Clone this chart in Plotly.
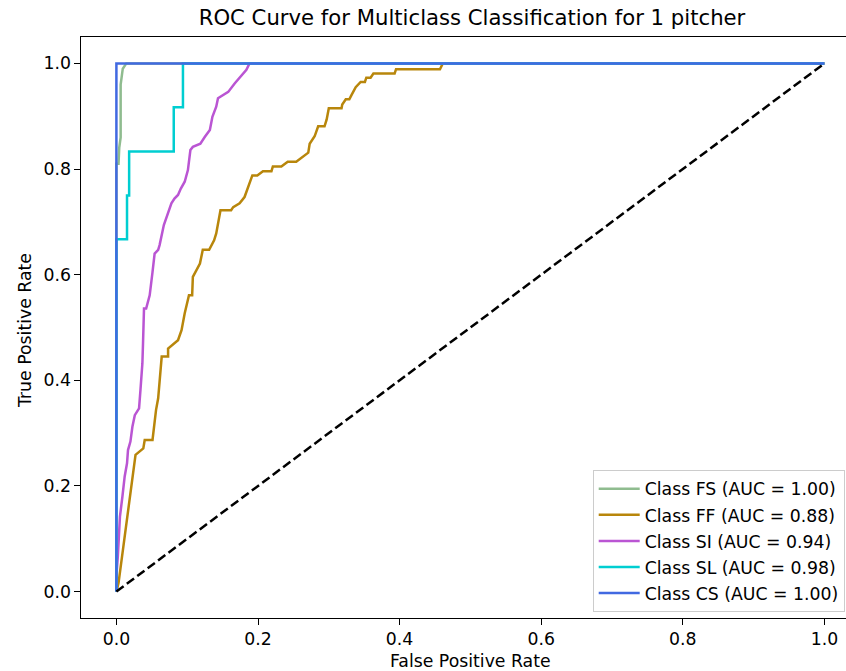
import plotly.graph_objects as go

# ROC curves per pitch class (false positive rate, true positive rate)
classes = ["FS", "FF", "SI", "SL", "CS"]
auc_values = [1.00, 0.88, 0.94, 0.98, 1.00]
line_colors = ["#8fbc8f", "#b8860b", "#ba55d3", "#00ced1", "#4169e1"]

fpr_fs = [0.0, 0.0, 0.003, 0.004, 0.006, 0.006, 0.009, 0.014, 1.0]
tpr_fs = [0.0, 0.81, 0.81, 0.84, 0.86, 0.96, 0.99, 1.0, 1.0]

fpr_ff = [0.0, 0.003, 0.027, 0.038, 0.040, 0.051, 0.056, 0.059, 0.064, 0.073,
          0.073, 0.087, 0.092, 0.0965, 0.1025, 0.107, 0.108, 0.113, 0.118, 0.122,
          0.131, 0.138, 0.141, 0.147, 0.162, 0.165, 0.174, 0.181, 0.188, 0.192,
          0.199, 0.207, 0.219, 0.221, 0.233, 0.242, 0.254, 0.264, 0.271, 0.273,
          0.280, 0.285, 0.294, 0.297, 0.300, 0.318, 0.319, 0.324, 0.329, 0.332,
          0.338, 0.345, 0.351, 0.353, 0.359, 0.363, 0.393, 0.395, 0.457, 0.461, 1.0]
tpr_ff = [0.0, 0.016, 0.259, 0.271, 0.287, 0.287, 0.344, 0.366, 0.445, 0.445,
          0.46, 0.476, 0.495, 0.527, 0.561, 0.561, 0.596, 0.609, 0.621, 0.647,
          0.647, 0.665, 0.678, 0.722, 0.722, 0.728, 0.735, 0.747, 0.773, 0.788,
          0.788, 0.796, 0.796, 0.805, 0.805, 0.814, 0.814, 0.823, 0.831, 0.848,
          0.862, 0.881, 0.881, 0.894, 0.915, 0.915, 0.922, 0.932, 0.932, 0.940,
          0.955, 0.965, 0.965, 0.973, 0.973, 0.981, 0.981, 0.989, 0.989, 1.0, 1.0]

fpr_si = [0.0, 0.0, 0.002, 0.005, 0.0085, 0.0117, 0.015, 0.0164, 0.0198, 0.0226,
          0.026, 0.032, 0.034, 0.0367, 0.0376, 0.039, 0.042, 0.047, 0.051, 0.054,
          0.059, 0.061, 0.067, 0.0715, 0.0777, 0.082, 0.087, 0.091, 0.0965, 0.101,
          0.1045, 0.108, 0.1186, 0.125, 0.132, 0.1356, 0.141, 0.1435, 0.158, 0.167,
          0.1765, 0.1836, 0.188, 1.0]
tpr_si = [0.0, 0.03, 0.066, 0.142, 0.18, 0.218, 0.243, 0.268, 0.284, 0.312,
          0.334, 0.347, 0.382, 0.432, 0.47, 0.536, 0.536, 0.561, 0.605, 0.640,
          0.647, 0.656, 0.694, 0.713, 0.735, 0.744, 0.751, 0.763, 0.776, 0.798,
          0.836, 0.842, 0.848, 0.861, 0.874, 0.899, 0.918, 0.934, 0.946, 0.962,
          0.978, 0.988, 1.0, 1.0]

fpr_sl = [0.0, 0.0, 0.015, 0.015, 0.018, 0.018, 0.081, 0.081, 0.094, 0.094, 1.0]
tpr_sl = [0.0, 0.667, 0.667, 0.75, 0.75, 0.833, 0.833, 0.917, 0.917, 1.0, 1.0]

fpr_cs = [0.0, 0.0, 1.0]
tpr_cs = [0.0, 1.0, 1.0]

chance_x = [0.0, 1.0]
chance_y = [0.0, 1.0]

tick_vals = [0.0, 0.2, 0.4, 0.6, 0.8, 1.0]

curves = [(fpr_fs, tpr_fs), (fpr_ff, tpr_ff), (fpr_si, tpr_si),
          (fpr_sl, tpr_sl), (fpr_cs, tpr_cs)]

FONT = "DejaVu Sans"
BASE = 17.3     # tick labels, axis labels, legend
TITLE = 21.2
W, H = 846, 671
ML, MR, MT, MB = 81, 0, 37, 53
PX_PER_UNIT_X = 708.0

fig = go.Figure()
for name, auc, color, (fx, ty) in zip(classes, auc_values, line_colors, curves):
    fig.add_trace(go.Scatter(
        x=fx, y=ty, mode="lines",
        name=f"Class {name} (AUC = {auc:.2f})",
        legendgroup=name,
        line=dict(color=color, width=2.5),
        hoverinfo="skip",
    ))

# chance diagonal
fig.add_trace(go.Scatter(
    x=chance_x, y=chance_y, mode="lines", showlegend=False,
    line=dict(color="black", width=2.5, dash="9px,4px"),
    hoverinfo="skip",
))

plot_w = W - ML - MR
plot_h = H - MT - MB
x_lo = -0.05
x_hi = x_lo + plot_w / PX_PER_UNIT_X

axis_common = dict(
    showgrid=False, zeroline=False, showline=True, linecolor="black",
    linewidth=1.3, ticks="outside", ticklen=5.5, tickwidth=1.3,
    tickcolor="black", tickvals=tick_vals, tickformat=".1f",
    tickfont=dict(family=FONT, size=BASE, color="black"),
)

fig.update_layout(
    width=W, height=H,
    margin=dict(l=ML, r=MR, t=MT, b=MB, pad=0),
    paper_bgcolor="white", plot_bgcolor="white",
    font=dict(family=FONT, color="black"),
    title=dict(
        text="ROC Curve for Multiclass Classification for 1 pitcher",
        x=472 / W, xref="container", xanchor="center",
        y=1 - 18 / H, yref="container", yanchor="middle",
        font=dict(family=FONT, size=TITLE, color="black"),
    ),
    xaxis=dict(range=[x_lo, x_hi], mirror=True, **axis_common),
    yaxis=dict(range=[-0.05, 1.05], mirror=False, **axis_common),
    legend=dict(
        x=(592.7 - ML) / plot_w, y=(H - MB - 470) / plot_h,
        xanchor="left", yanchor="top",
        bgcolor="rgba(255,255,255,0.8)", bordercolor="#cccccc", borderwidth=1,
        font=dict(family=FONT, size=BASE, color="black"),
        tracegroupgap=0.6, itemwidth=41,
    ),
    showlegend=True,
    annotations=[
        dict(text="False Positive Rate", xref="paper", yref="paper",
             x=(470.5 - ML) / plot_w, y=-(661 - (H - MB)) / plot_h,
             xanchor="center", yanchor="middle", showarrow=False,
             font=dict(family=FONT, size=BASE, color="black")),
        dict(text="True Positive Rate", xref="paper", yref="paper",
             x=-(ML - 25) / plot_w, y=((H - MB) - 331) / plot_h,
             xanchor="center", yanchor="middle", textangle=-90, showarrow=False,
             font=dict(family=FONT, size=BASE, color="black")),
    ],
)

fig.write_html("out.html")
